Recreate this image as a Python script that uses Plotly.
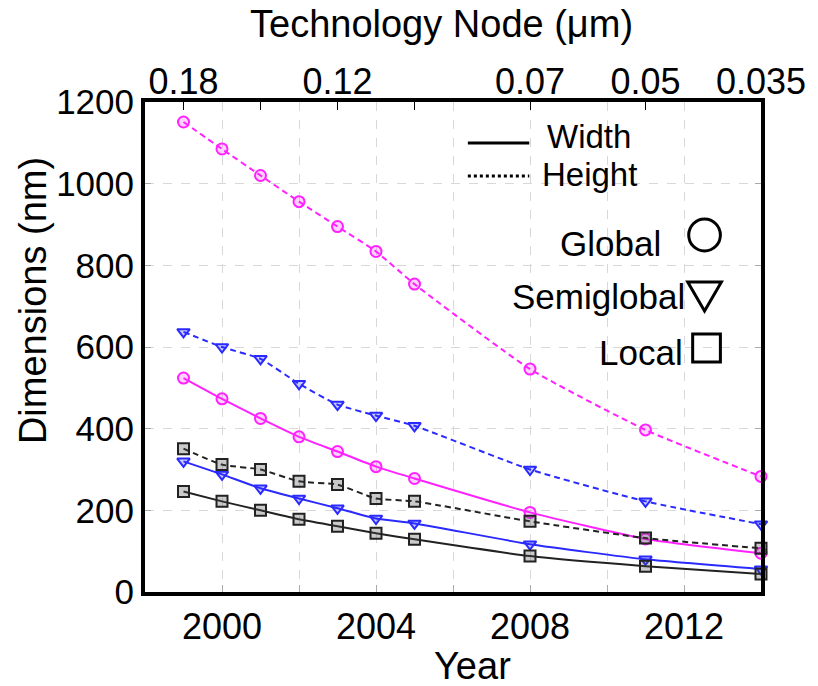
import plotly.graph_objects as go

years = [1999, 2000, 2001, 2002, 2003, 2004, 2005, 2008, 2011, 2014]
global_height = [1151, 1085, 1020, 956, 895, 834, 754, 546, 397, 283]
global_width = [524, 473, 425, 380, 344, 307, 278, 195, 130, 95]
semi_height = [637, 600, 571, 510, 459, 432, 407, 300, 222, 166]
semi_width = [320, 288, 254, 229, 205, 180, 168, 117, 80, 56]
local_height = [351, 312, 300, 271, 263, 229, 222, 173, 132, 107]
local_width = [246, 222, 200, 178, 161, 144, 129, 88, 63, 44]

node_years = [1999, 2001, 2003, 2005, 2008, 2011, 2014]
node_labels = ["0.18", "", "0.12", "", "0.07", "0.05", "0.035"]
year_ticks = [2000, 2004, 2008, 2012]

FONT = "Liberation Sans, Arial, sans-serif"
MAG = "#ff22ff"
BLU = "#2a2aff"
BLK = "#222222"

W, H = 818, 686
L, R, T, B = 145, 767, 102, 592


def px(x):
    return (x - L) / (R - L)


def py(y):
    return (B - y) / (B - T)


fig = go.Figure()

series = [
    (global_height, MAG, "circle", "6px,4px", "rgba(255,34,255,0.2)"),
    (global_width, MAG, "circle", "solid", "rgba(255,34,255,0.2)"),
    (semi_height, BLU, "triangle-down", "6px,4px", "rgba(42,42,255,0.25)"),
    (semi_width, BLU, "triangle-down", "solid", "rgba(42,42,255,0.25)"),
    (local_height, BLK, "square", "6px,4px", "rgba(80,80,80,0.3)"),
    (local_width, BLK, "square", "solid", "rgba(80,80,80,0.3)"),
]
for vals, col, sym, dash, fill in series:
    fig.add_trace(go.Scatter(
        x=years, y=vals, mode="lines+markers",
        line=dict(color=col, width=2, dash=dash, shape="spline", smoothing=0.5),
        marker=dict(symbol=sym, size=11, color=fill, line=dict(color=col, width=2)),
        cliponaxis=False, showlegend=False, hoverinfo="skip",
    ))

# dummy trace for top axis
fig.add_trace(go.Scatter(x=[years[0]], y=[0], xaxis="x2", mode="markers",
                         marker=dict(opacity=0), showlegend=False, hoverinfo="skip"))

fig.update_layout(
    width=W, height=H, autosize=False,
    margin=dict(l=L, r=W - R, t=T, b=H - B, pad=0),
    plot_bgcolor="white", paper_bgcolor="white",
    font=dict(family=FONT, color="black", size=36),
    xaxis=dict(
        range=[1998, 2014], tickmode="array", tickvals=list(range(2000, 2015, 2)),
        ticktext=[str(y) if y in year_ticks else "" for y in range(2000, 2015, 2)],
        ticks="inside", ticklen=7, tickcolor="#aaaaaa", tickwidth=1,
        showline=True, linecolor="black", linewidth=4, mirror=True,
        showgrid=True, gridcolor="#d8d8d8", griddash="dash", gridwidth=1,
        tickfont=dict(size=36), zeroline=False,
    ),
    xaxis2=dict(
        range=[1998, 2014], overlaying="x", side="top", tickmode="array",
        tickvals=node_years, ticktext=node_labels,
        ticks="inside", ticklen=8, tickcolor="black", tickwidth=1,
        showline=False, showgrid=False, tickfont=dict(size=36), zeroline=False,
    ),
    yaxis=dict(
        range=[0, 1200], tickmode="array", tickvals=[0, 200, 400, 600, 800, 1000, 1200],
        ticks="inside", ticklen=6, tickcolor="#aaaaaa", tickwidth=1,
        showline=True, linecolor="black", linewidth=4, mirror="ticks",
        showgrid=True, gridcolor="#d8d8d8", griddash="dash", gridwidth=1,
        tickfont=dict(size=35), zeroline=False,
    ),
)

ann = []
ann.append(dict(text="Technology Node (\u03bcm)", x=px(444), y=py(24), xref="paper", yref="paper",
                xanchor="center", yanchor="middle", showarrow=False, font=dict(size=38)))
ann.append(dict(text="Year", x=px(476), y=py(666), xref="paper", yref="paper",
                xanchor="center", yanchor="middle", showarrow=False, font=dict(size=38)))
ann.append(dict(text="Dimensions (nm)", x=px(32), y=py(301), xref="paper", yref="paper",
                xanchor="center", yanchor="middle", textangle=-90, showarrow=False, font=dict(size=38)))
ann.append(dict(text="Width", x=px(550), y=py(136), xref="paper", yref="paper",
                xanchor="left", yanchor="middle", showarrow=False, font=dict(size=33), borderpad=0))
ann.append(dict(text="Height", x=px(545), y=py(174), xref="paper", yref="paper",
                xanchor="left", yanchor="middle", showarrow=False, font=dict(size=33), borderpad=0))
ann.append(dict(text="Global", x=px(668), y=py(243), xref="paper", yref="paper",
                xanchor="right", yanchor="middle", showarrow=False, font=dict(size=35)))
ann.append(dict(text="Semiglobal", x=px(692), y=py(296), xref="paper", yref="paper",
                xanchor="right", yanchor="middle", showarrow=False, font=dict(size=35)))
ann.append(dict(text="Local", x=px(690), y=py(352), xref="paper", yref="paper",
                xanchor="right", yanchor="middle", showarrow=False, font=dict(size=35)))
fig.update_layout(annotations=ann)

shapes = []
shapes.append(dict(type="line", xref="paper", yref="paper", x0=px(471), x1=px(533), y0=py(143), y1=py(143),
                   line=dict(color="black", width=3)))
shapes.append(dict(type="line", xref="paper", yref="paper", x0=px(471), x1=px(533), y0=py(176), y1=py(176),
                   line=dict(color="black", width=3, dash="dot")))
shapes.append(dict(type="circle", xref="paper", yref="paper", x0=px(694), x1=px(726), y0=py(219), y1=py(251),
                   line=dict(color="black", width=3)))
shapes.append(dict(type="path", xref="paper", yref="paper",
                   path=f"M {px(693)} {py(282)} L {px(727)} {py(282)} L {px(710)} {py(311)} Z",
                   line=dict(color="black", width=3)))
shapes.append(dict(type="rect", xref="paper", yref="paper", x0=px(698), x1=px(726), y0=py(334), y1=py(362),
                   line=dict(color="black", width=3)))
fig.update_layout(shapes=shapes)

fig.write_html("out.html")
